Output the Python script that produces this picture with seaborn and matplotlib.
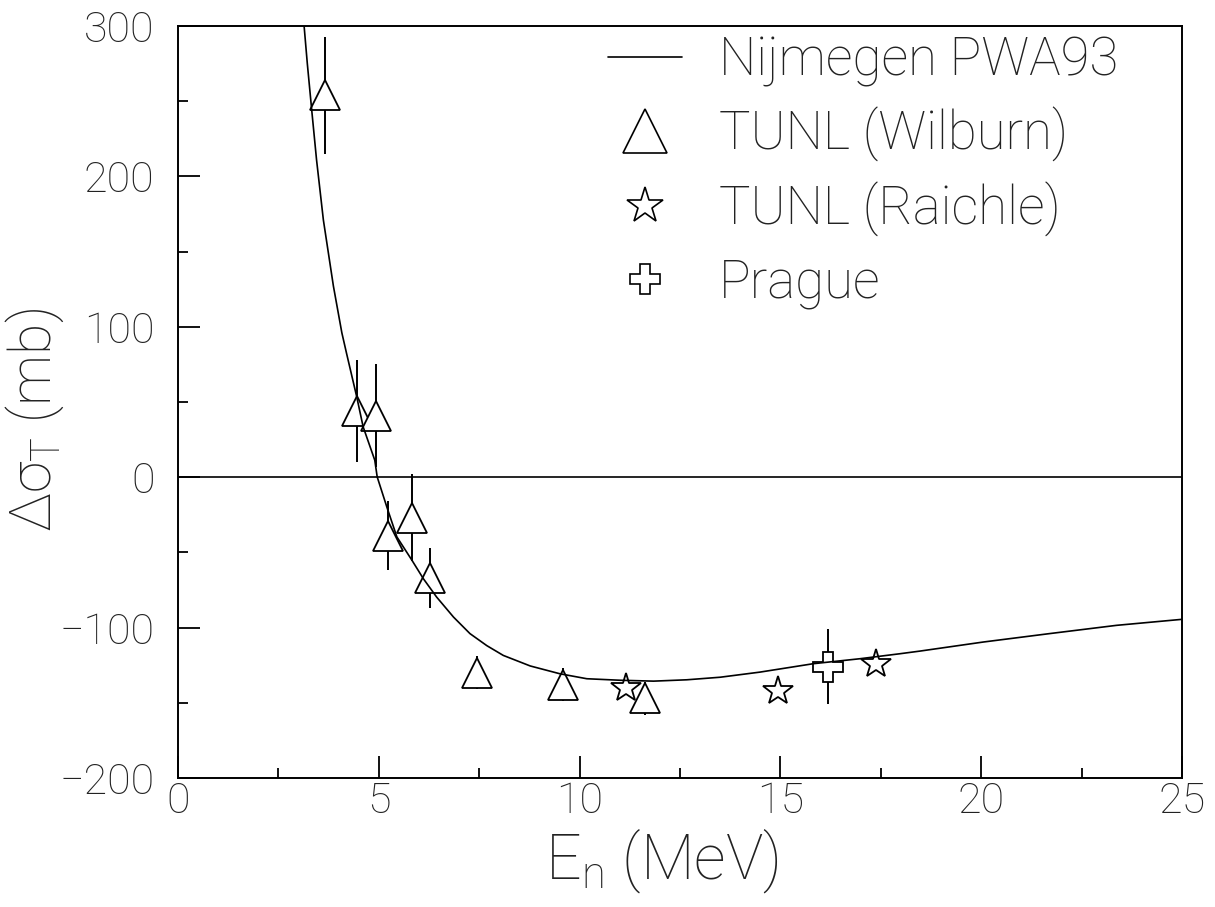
import numpy as np
import pandas as pd
import matplotlib
matplotlib.use("Agg")
import matplotlib.pyplot as plt
from matplotlib.lines import Line2D
from matplotlib.ticker import MultipleLocator
import seaborn as sns

# ---- data ----
curve_E = [3.14, 3.22, 3.33, 3.45, 3.62, 3.87, 4.08, 4.20, 4.45, 4.61, 4.90, 4.96,
           5.20, 5.45, 5.82, 6.11, 6.44, 6.86, 7.27, 7.69, 8.10, 8.77, 9.51, 10.18,
           11.0, 11.84, 12.67, 13.5, 14.49, 15.82, 16.98, 17.97, 18.48, 20.05,
           21.7, 23.37, 25.0]
curve_val = [300, 275, 244, 211, 171, 127, 96, 82, 53.5, 33.5, 11.3, 0.2,
             -19.8, -39.7, -55, -67.5, -79.7, -93, -104, -112, -118.5, -125.5, -130.7, -134,
             -135, -135.6, -134.7, -133, -129.6, -124, -120.7, -117.4, -115.6, -109.6,
             -104, -98.5, -94.5]

wilburn_E = [3.66, 4.45, 4.92, 5.24, 5.83, 6.27, 7.44, 9.58, 11.63]
wilburn_val = [254, 44, 41, -39, -27, -67, -130, -138, -147]
wilburn_err = [39, 34, 34, 23, 29, 20, 11, 11, 11]

raichle_E = [11.15, 14.93, 17.37]
raichle_val = [-140, -142, -124]

prague_E = [16.19]
prague_val = [-126]
prague_err = [25]

x_ticks = [0, 5, 10, 15, 20, 25]
y_ticks = [-200, -100, 0, 100, 200, 300]

legend_labels = ["Nijmegen PWA93", "TUNL (Wilburn)", "TUNL (Raichle)", "Prague"]

# ---- style ----
sns.set_theme(style="ticks")
FONT = "Roboto"
plt.rcParams["font.family"] = [FONT, "DejaVu Sans"]
plt.rcParams["font.weight"] = "light"
plt.rcParams["mathtext.fontset"] = "custom"
plt.rcParams["mathtext.rm"] = FONT + ":light"
plt.rcParams["mathtext.it"] = FONT + ":light"
plt.rcParams["axes.unicode_minus"] = True

W, H = 1215, 907
fig = plt.figure(figsize=(W / 100, H / 100), dpi=100)
fig.patch.set_facecolor("white")
L, R, T, B = 178, 1182, 26, 778
ax = fig.add_axes([L / W, (H - B) / H, (R - L) / W, (B - T) / H])
ax.set_facecolor("white")

df_curve = pd.DataFrame({"E": curve_E, "val": curve_val})
sns.lineplot(data=df_curve, x="E", y="val", sort=False, estimator=None,
             color="black", lw=1.2, ax=ax, zorder=5)

ax.axhline(0, color="black", lw=1.2, zorder=1)

ax.errorbar(wilburn_E, wilburn_val, yerr=wilburn_err, fmt="^", ms=21,
            mfc="white", mec="black", mew=1.3, ecolor="black", elinewidth=1.4,
            capsize=0, zorder=3)
ax.errorbar(raichle_E, raichle_val, fmt="*", ms=22,
            mfc="white", mec="black", mew=1.3, zorder=3)
ax.errorbar(prague_E, prague_val, yerr=prague_err, fmt="P", ms=21,
            mfc="white", mec="black", mew=1.3, ecolor="black", elinewidth=1.4,
            capsize=0, zorder=3)

ax.set_xlim(0, 25)
ax.set_ylim(-200, 300)
ax.set_xticks(x_ticks)
ax.set_yticks(y_ticks)
ax.xaxis.set_minor_locator(MultipleLocator(2.5))
ax.yaxis.set_minor_locator(MultipleLocator(50))
ax.tick_params(axis="both", which="both", direction="in", top=False, right=False,
               color="black", width=1.3)
ax.tick_params(axis="both", which="major", length=15.5, labelsize=31)
ax.tick_params(axis="both", which="minor", length=7)
ax.tick_params(axis="y", which="major", pad=17)
ax.tick_params(axis="x", which="major", pad=2)
for lab in ax.get_xticklabels() + ax.get_yticklabels():
    lab.set_fontweight("light")
    lab.set_color("#222222")
for s in ax.spines.values():
    s.set_visible(True)
    s.set_linewidth(1.4)
    s.set_color("black")

ax.set_xlabel(r"E$_{\mathrm{n}}$ (MeV)", fontsize=45, fontweight="light", color="#222222")
ax.set_ylabel(r"Δσ$_{\mathrm{T}}$ (mb)", fontsize=41, fontweight="light", color="#222222")
ax.xaxis.set_label_coords((662 - L) / (R - L), (B - 826) / (B - T))
ax.yaxis.set_label_coords((66 - L) / (R - L), (B - 420) / (B - T))

handles = [
    Line2D([], [], color="black", lw=1.2),
    Line2D([], [], ls="none", marker="^", ms=31, mfc="white", mec="black", mew=1.2),
    Line2D([], [], ls="none", marker="*", ms=27, mfc="white", mec="black", mew=1.2),
    Line2D([], [], ls="none", marker="P", ms=22, mfc="white", mec="black", mew=1.2),
]
leg = ax.legend(handles, legend_labels, loc="upper left",
                bbox_to_anchor=(608 / W, 1 - 35 / H), bbox_transform=fig.transFigure,
                frameon=False, fontsize=38, handlelength=1.4, handletextpad=0.7,
                labelspacing=0.38, borderpad=0, borderaxespad=0)
for t in leg.get_texts():
    t.set_fontweight("light")
    t.set_color("#222222")

fig.savefig("out.png", dpi=100, facecolor="white")
